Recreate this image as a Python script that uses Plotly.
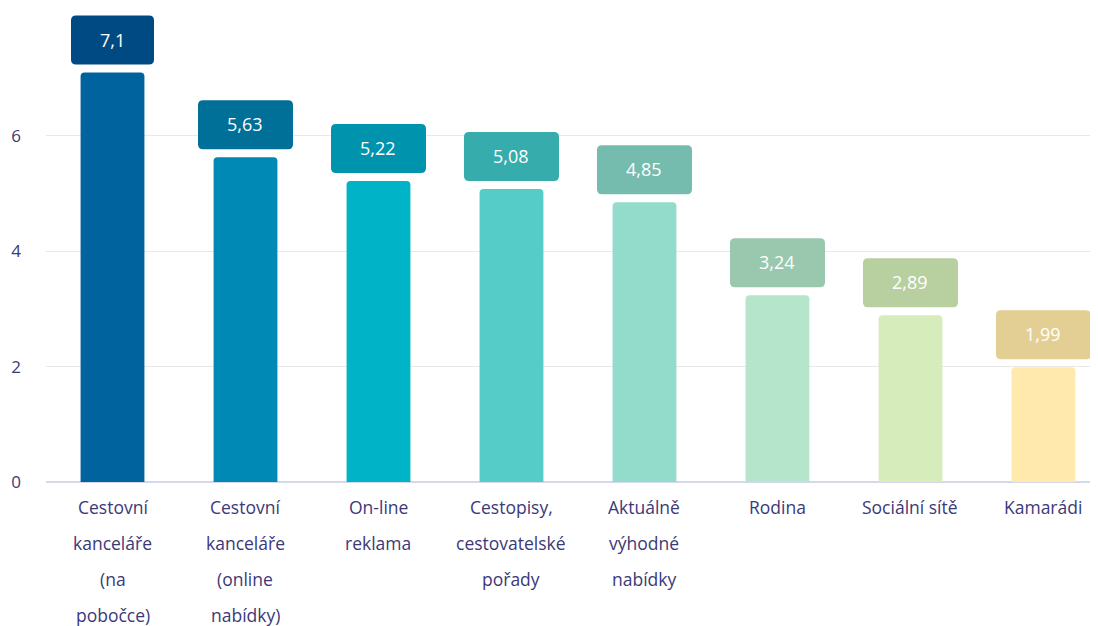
import plotly.graph_objects as go

# data
categories = [
    "Cestovní kanceláře (na pobočce)",
    "Cestovní kanceláře (online nabídky)",
    "On-line reklama",
    "Cestopisy, cestovatelské pořady",
    "Aktuálně výhodné nabídky",
    "Rodina",
    "Sociální sítě",
    "Kamarádi",
]
label_lines = [
    ["Cestovní", "kanceláře", "(na", "pobočce)"],
    ["Cestovní", "kanceláře", "(online", "nabídky)"],
    ["On-line", "reklama"],
    ["Cestopisy,", "cestovatelské", "pořady"],
    ["Aktuálně", "výhodné", "nabídky"],
    ["Rodina"],
    ["Sociální sítě"],
    ["Kamarádi"],
]
values = [7.1, 5.63, 5.22, 5.08, 4.85, 3.24, 2.89, 1.99]
y_ticks = [0, 2, 4, 6]

bar_colors = ["#00639e", "#0089b5", "#00b3c6", "#56ccc8",
              "#93dccb", "#b5e6cc", "#d6ecbb", "#ffe9ad"]
box_colors = ["#004a84", "#007098", "#0093ad", "#36adac",
              "#75bcae", "#99c8ae", "#b8cf9f", "#e3cf93"]

TEXT = "#3b3978"
FONT = "Open Sans"


def rounded_box(w, h, r, y0):
    # path in pixels relative to the anchor point (bar top)
    x0, x1 = -w / 2, w / 2
    y1 = y0 + h
    return (f"M{x0 + r},{y0} L{x1 - r},{y0} Q{x1},{y0} {x1},{y0 + r} "
            f"L{x1},{y1 - r} Q{x1},{y1} {x1 - r},{y1} "
            f"L{x0 + r},{y1} Q{x0},{y1} {x0},{y1 - r} "
            f"L{x0},{y0 + r} Q{x0},{y0} {x0 + r},{y0} Z")


fig = go.Figure()
fig.add_trace(go.Bar(
    x=list(range(len(categories))),
    y=values,
    width=0.48,
    marker=dict(color=bar_colors, line=dict(width=0), cornerradius=4),
    hovertext=categories,
    hoverinfo="text+y",
))

shapes = []
annotations = []
for i, v in enumerate(values):
    label = str(v).replace(".", ",")
    box_w = 47 + 12 * len(label)  # padding around the value text
    shapes.append(dict(
        type="path", xref="x", yref="y",
        xsizemode="pixel", ysizemode="pixel",
        xanchor=i, yanchor=v,
        path=rounded_box(box_w, 49, 5, 8),
        fillcolor=box_colors[i], line=dict(width=0), layer="above",
    ))
    annotations.append(dict(
        x=i, y=v, xref="x", yref="y", text=label,
        showarrow=False, yshift=33, yanchor="middle",
        font=dict(family=FONT, size=18, color="white"),
    ))
    for j, line in enumerate(label_lines[i]):
        annotations.append(dict(
            x=i, y=0, xref="x", yref="y", text=line,
            showarrow=False, yshift=-25 - 36 * j, yanchor="middle",
            font=dict(family=FONT, size=17.5, color=TEXT),
        ))

# the page body has an 8px margin, so the figure is drawn 8px smaller
fig.update_layout(
    width=1090, height=618,
    margin=dict(l=38, r=0, t=0, b=144),
    plot_bgcolor="white", paper_bgcolor="white",
    showlegend=False,
    shapes=shapes,
    annotations=annotations,
    xaxis=dict(range=[-0.5, 7.41], showticklabels=False, showgrid=False,
               zeroline=False, fixedrange=True),
    yaxis=dict(range=[0, 8.219], tickvals=y_ticks, showgrid=True,
               gridcolor="#e8e8e8", gridwidth=1, zeroline=True,
               zerolinecolor="#d5d8ea", zerolinewidth=2,
               tickfont=dict(family=FONT, size=17, color=TEXT),
               ticklabelstandoff=24),
)

fig.write_html("out.html")
